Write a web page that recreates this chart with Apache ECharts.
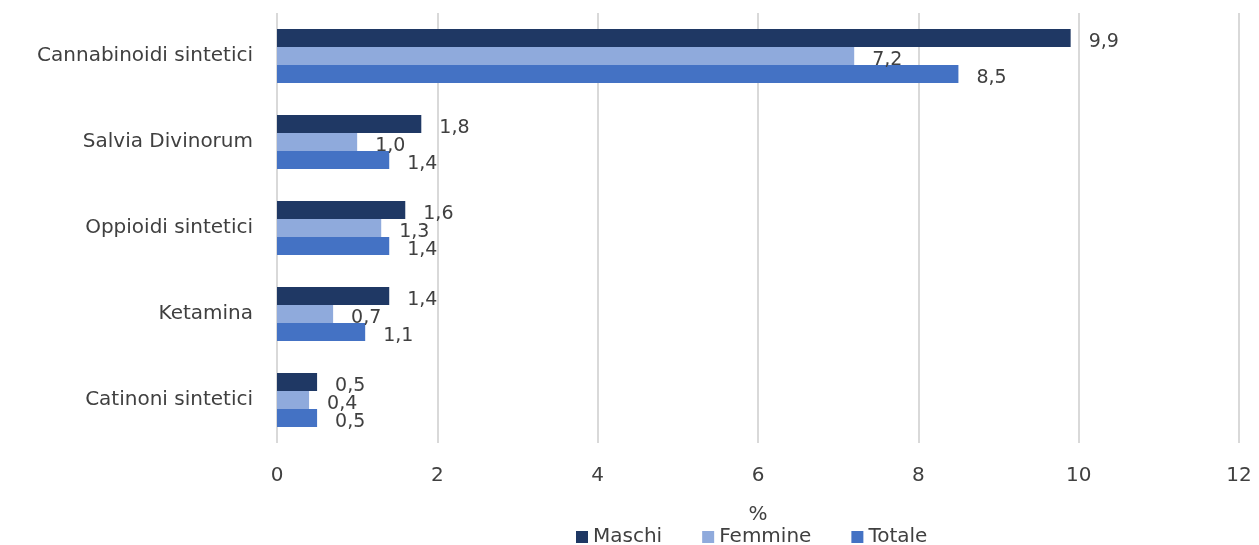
<!DOCTYPE html>
<html>
<head>
<meta charset="utf-8">
<script src="https://cdn.jsdelivr.net/npm/echarts@6/dist/echarts.min.js"></script>
<style>
  html, body { margin: 0; padding: 0; background: #fff; }
  #chart { width: 1259px; height: 545px; }
</style>
</head>
<body>
<div id="chart"></div>
<script>
var categories = ['Cannabinoidi sintetici', 'Salvia Divinorum', 'Oppioidi sintetici', 'Ketamina', 'Catinoni sintetici'];
var maschi = [9.9, 1.8, 1.6, 1.4, 0.5];
var femmine = [7.2, 1.0, 1.3, 0.7, 0.4];
var totale = [8.5, 1.4, 1.4, 1.1, 0.5];
var seriesNames = ['Maschi', 'Femmine', 'Totale'];
var colors = ['#1f3864', '#8faadc', '#4472c4'];

var myChart = echarts.init(document.getElementById('chart'));
var textColor = '#404040';
var font = 'DejaVu Sans';
var fontSize = 20;

function makeSeries(name, data, color){
    return {
        name: name,
        type: 'bar',
        data: data,
        barGap: '0%',
        barCategoryGap: '37%',
        itemStyle: { color: color },
        label: {
            show: true,
            position: 'right',
            distance: 18,
            offset: [0, 4],
            color: textColor,
            fontFamily: font,
            fontSize: 19,
            formatter: function(p){ return p.value.toFixed(1).replace('.', ','); }
        }
    };
}

var option = {
    animation: false,
    grid: { left: 277, right: 20, top: 13, bottom: 102 },
    legend: {
        data: seriesNames,
        left: 576,
        bottom: -2,
        padding: 0,
        itemWidth: 12,
        itemHeight: 12,
        itemGap: 40,
        icon: 'rect',
        textStyle: { color: textColor, fontFamily: font, fontSize: fontSize }
    },
    xAxis: {
        type: 'value',
        min: 0,
        max: 12,
        interval: 2,
        name: '%',
        nameLocation: 'middle',
        nameGap: 62,
        nameTextStyle: { color: textColor, fontFamily: font, fontSize: fontSize },
        axisLine: { show: false },
        axisTick: { show: false },
        axisLabel: { color: textColor, fontFamily: font, fontSize: fontSize, margin: 23 },
        splitLine: { lineStyle: { color: '#d9d9d9', width: 2 } }
    },
    yAxis: {
        type: 'category',
        data: categories,
        inverse: true,
        axisLine: { show: false },
        axisTick: { show: false },
        axisLabel: { color: textColor, fontFamily: font, fontSize: fontSize, margin: 24 }
    },
    series: [
        makeSeries(seriesNames[0], maschi, colors[0]),
        makeSeries(seriesNames[1], femmine, colors[1]),
        makeSeries(seriesNames[2], totale, colors[2])
    ]
};
myChart.setOption(option);
</script>
</body>
</html>
